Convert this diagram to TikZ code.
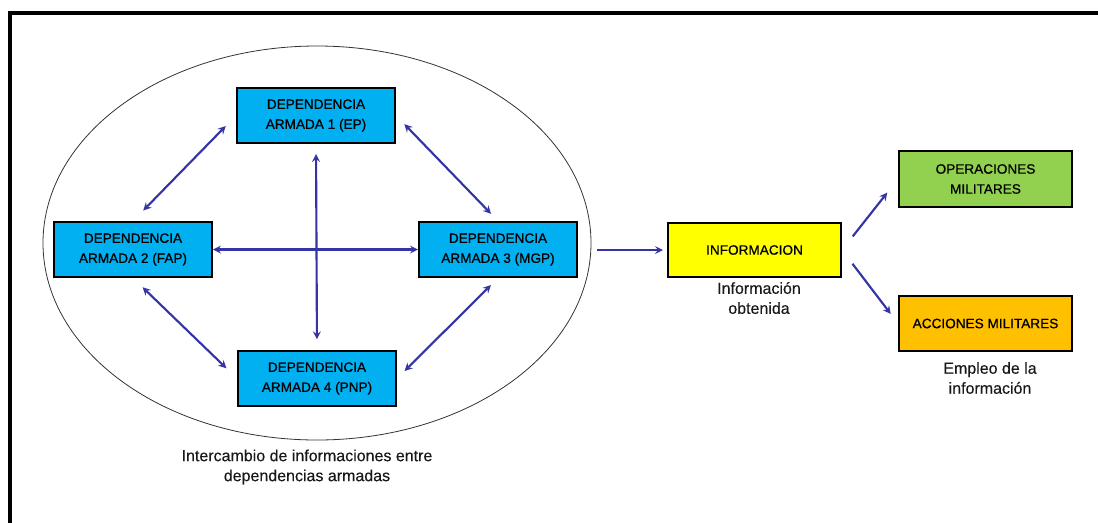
\documentclass[tikz,border=0pt]{standalone}
\usepackage{fontspec}
\setmainfont{Liberation Sans}
\newfontfamily\cajafont[FakeBold=0.7]{Liberation Sans}
\newfontfamily\notafont[FakeBold=0.3]{Liberation Sans}
\usetikzlibrary{arrows}
\usetikzlibrary{positioning}
\usetikzlibrary{shapes.geometric}
\definecolor{colorDEP}{RGB}{0,176,240}
\definecolor{colorINFO}{RGB}{255,255,0}
\definecolor{colorOPS}{RGB}{146,208,80}
\definecolor{colorACC}{RGB}{255,192,0}
\definecolor{colorFLE}{RGB}{52,52,165}
\tikzset{
   every path/.style={>=stealth},
   caja/.style={draw=black,line width=1.5pt,align=center,text=black,inner sep=0pt,
                font=\cajafont\fontsize{10.2}{15}\selectfont},
   dep/.style={caja,fill=colorDEP,minimum width=118.5pt,minimum height=41.25pt},
   info/.style={caja,fill=colorINFO,minimum width=129.75pt,minimum height=40.5pt},
   uso/.style={caja,fill=#1,minimum width=129.75pt,minimum height=41.5pt},
   grupo/.style={draw=black!80,semithick,ellipse,minimum width=411pt,minimum height=295.5pt,inner sep=0pt},
   nota/.style={align=center,text=black!90,font=\notafont\fontsize{12}{15}\selectfont},
   fl/.style={->,color=colorFLE,line width=1.6pt},
   dfl/.style={<->,color=colorFLE,line width=1.6pt},
}
\begin{document}
\begin{tikzpicture}[x=0.75pt,y=-0.75pt]

        \useasboundingbox (0,0) rectangle (1098,522);
        \draw[line width=3pt] (10,530) -- (10,13) -- (1105,13);

        \node[grupo] (grupo) at (317,243) {};

        \node[dep] (b1) at (316,115.5) {DEPENDENCIA\\ARMADA 1 (EP)};
        \node[dep] (b2) at (133,249.5) {DEPENDENCIA\\ARMADA 2 (FAP)};
        \node[dep] (b3) at (498,249.5) {DEPENDENCIA\\ARMADA 3 (MGP)};
        \node[dep] (b4) at (317,378.5) {DEPENDENCIA\\ARMADA 4 (PNP)};

        \node[info] (info) at (754.5,250) {INFORMACION};
        \node[uso=colorOPS] (ops) at (985.5,179) {OPERACIONES\\MILITARES};
        \node[uso=colorACC] (acc) at (985.5,323.5) {ACCIONES MILITARES};

        \node[nota] (n1) at (307,467) {Intercambio de informaciones entre\\dependencias armadas};
        \node[nota] (n2) at (759,298) {Información\\obtenida};
        \node[nota] (n3) at (990,378) {Empleo de la\\información};

        \draw[dfl,shorten <=11pt,shorten >=11pt] (b2.north) -- (b1.west);
        \draw[dfl,shorten <=9pt,shorten >=7.5pt] (b1.east) -- (b3.north);
        \draw[dfl,shorten <=10pt,shorten >=11pt] (b2.south) -- (b4.west);
        \draw[dfl,shorten <=7.5pt,shorten >=8pt] (b3.south) -- (b4.east);
        \draw[dfl,shorten <=7.5pt,shorten >=8pt] (b1.south) -- (b4.north);
        \draw[dfl] (b2.east) -- (b3.west);

        \draw[fl,shorten <=4.5pt,shorten >=3pt] (grupo.east |- info.west) -- (info.west);
        \draw[fl,shorten <=13pt,shorten >=13pt] (info.east) -- (ops.west);
        \draw[fl,shorten <=13pt,shorten >=9pt] (info.east) -- (acc.west);

      \end{tikzpicture}
\end{document}
